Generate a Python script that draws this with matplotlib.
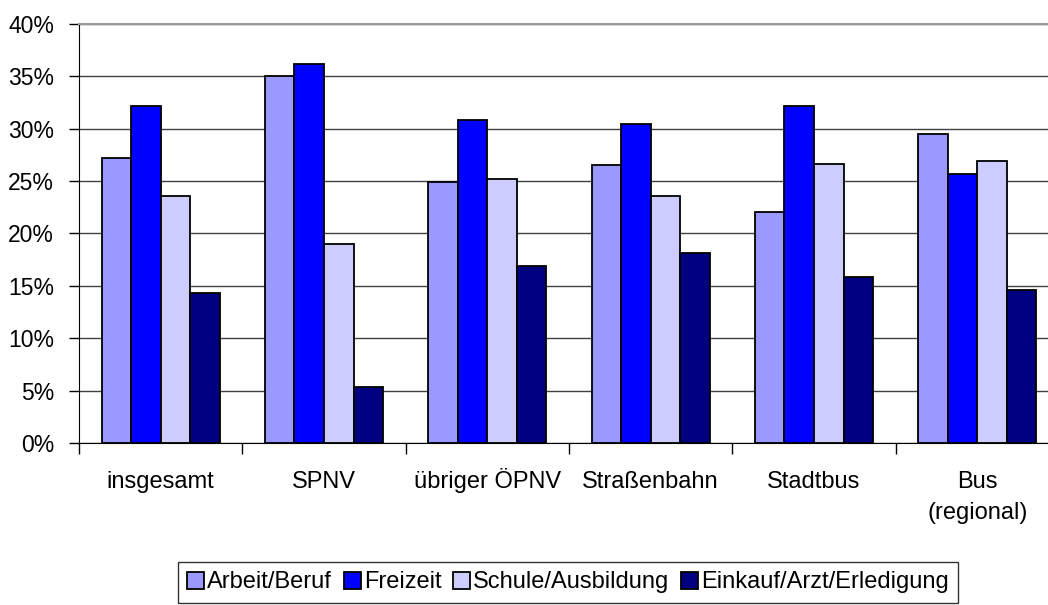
import numpy as np
import matplotlib
matplotlib.use("Agg")
from matplotlib import pyplot as plt
from matplotlib.ticker import FixedLocator, FuncFormatter
from matplotlib.transforms import ScaledTranslation

plt.rcParams['font.family'] = ['Liberation Sans', 'DejaVu Sans']

# data
categories = ['insgesamt', 'SPNV', 'übriger ÖPNV', 'Straßenbahn', 'Stadtbus', 'Bus\n(regional)']
series_names = ['Arbeit/Beruf', 'Freizeit', 'Schule/Ausbildung', 'Einkauf/Arzt/Erledigung']
arbeit = [27.2, 35.0, 24.9, 26.5, 22.1, 29.5]
freizeit = [32.2, 36.2, 30.8, 30.5, 32.2, 25.7]
schule = [23.6, 19.0, 25.2, 23.6, 26.6, 26.9]
einkauf = [14.3, 5.3, 16.9, 18.1, 15.8, 14.6]
colors = ['#9999FF', '#0000FF', '#CCCCFF', '#000080']

fig = plt.figure(figsize=(10.48, 6.05), dpi=100)
ax = fig.add_axes([79 / 1048, 162 / 605, 980 / 1048, 419 / 605])

x = np.arange(len(categories)) + 0.5
w = 0.181
for i, (vals, name) in enumerate(zip([arbeit, freizeit, schule, einkauf], series_names)):
    ax.bar(x + (i - 1.5) * w, vals, width=w, color=colors[i], edgecolor='black',
           linewidth=1.3, label=name, zorder=3)

ax.set_xlim(0, 6)
ax.set_ylim(0, 40)
ax.set_yticks(np.arange(0, 41, 5))
ax.yaxis.set_major_formatter(FuncFormatter(lambda v, p: '%d%%' % v))
ax.yaxis.grid(True, color='#404040', linewidth=1.0, zorder=0)
ax.tick_params(axis='y', length=7, width=1, labelsize=16.5, pad=11, colors='black')

ax.set_xticks(x)
ax.set_xticklabels(categories, fontsize=17, va='top', linespacing=1.5)
ax.tick_params(axis='x', which='major', length=0, pad=20.5)
ax.xaxis.set_minor_locator(FixedLocator(np.arange(0, 7)))
ax.tick_params(axis='x', which='minor', length=8, width=1, direction='out')
# the umlaut in Ö makes that label sit lower, move it back up a bit
for lab in ax.get_xticklabels():
    if 'Ö' in lab.get_text():
        lab.set_transform(lab.get_transform() + ScaledTranslation(0, 2.5 / 72, fig.dpi_scale_trans))

ax.spines['right'].set_visible(False)
ax.spines['top'].set_color('#999999')
ax.spines['top'].set_linewidth(1.5)
ax.spines['left'].set_color('black')
ax.spines['bottom'].set_color('black')
ax.spines['bottom'].set_zorder(4)

leg = fig.legend(loc='upper center', bbox_to_anchor=(568 / 1048, 1 - 562 / 605), ncol=4,
                 fontsize=17, frameon=True, fancybox=False, edgecolor='black',
                 handlelength=0.72, handleheight=0.72, handletextpad=0.12, columnspacing=0.5,
                 borderpad=0.4, borderaxespad=0)
leg.get_frame().set_linewidth(1.0)

fig.savefig('out.png', dpi=100)
